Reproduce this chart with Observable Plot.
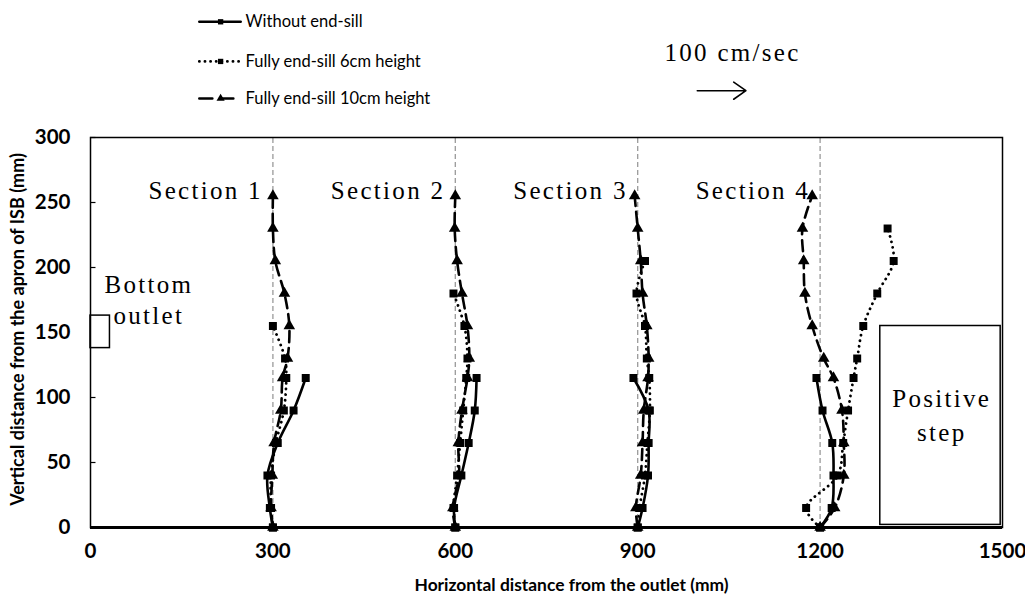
<!DOCTYPE html>
<html><head><meta charset="utf-8">
<script src="https://cdn.jsdelivr.net/npm/d3@7"></script>
<script src="https://cdn.jsdelivr.net/npm/@observablehq/plot@0.6"></script>
<style>
body{margin:0;background:#fff;}
#chart svg{display:block;background:#fff;}
</style></head><body><div id="chart"></div>
<script>
// measuring heights above the apron (mm)
const heights = [0,15,40,65,90,115,130,155,180,205,230,255];
const sections = [300,600,900,1200];
const sectionLabels = ["Section 1","Section 2","Section 3","Section 4"];
const xTicks = [0,300,600,900,1200,1500];
const yTicks = [0,50,100,150,200,250,300];
const seriesNames = ["Without end-sill","Fully end-sill 6cm height","Fully end-sill 10cm height"];

// horizontal positions (mm) of vector tips, one list per section, aligned with heights
const withoutSill = [
  [300,295,291,308,334,354],
  [600,598,610,622,632,635],
  [900,908,917,918,918,893],
  [1200,1219,1222,1220,1204,1194]
];
const sill6cm = [
  [300,297,297,305,318,322,320,300],
  [600,597,603,608,613,618,620,615,597],
  [900,903,912,916,920,919,915,912,898,912],
  [1200,1177,1229,1238,1246,1255,1261,1271,1294,1321,1311]
];
const sill10cm = [
  [300,297,299,302,313,316,324,327,319,304,300,300],
  [600,596,606,605,611,620,623,620,611,603,599,600],
  [900,897,905,908,910,917,918,915,908,905,900,895],
  [1200,1224,1239,1239,1236,1222,1206,1187,1175,1173,1171,1187]
];

function rows(arr) {
  const out = [];
  arr.forEach((xs, s) => xs.forEach((x, i) => out.push({section: s, x, y: heights[i]})));
  return out;
}
const r0 = rows(withoutSill), r6 = rows(sill6cm), r10 = rows(sill10cm);

// legend rows (placed above the frame, in y-units beyond the domain)
const legendRows = seriesNames.map((name, i) => ({name, i, y: [389, 358.5, 330][i]}));
const legendLines = legendRows.flatMap(d => [{i: d.i, x: 179, y: d.y}, {i: d.i, x: 247, y: d.y}]);

const serif = "Liberation Serif";
const sans = "Lato, 'Open Sans', sans-serif";

const plot = Plot.plot({
  width: 1025, height: 603,
  marginLeft: 90, marginRight: 23, marginTop: 137, marginBottom: 76,
  x: {domain: [0, 1500]},
  y: {domain: [0, 300]},
  style: {background: "#fff", overflow: "visible"},
  marks: [
    Plot.axisY({ticks: yTicks, tickFormat: d => String(d), tickSize: 0, tickPadding: 20, fontSize: 20.5, fontWeight: "bold", fontFamily: sans, label: null}),
    Plot.axisX({ticks: xTicks, tickFormat: d => String(d), tickSize: 0, tickPadding: 16, fontSize: 20.5, fontWeight: "bold", fontFamily: sans, label: null}),
    Plot.ruleY(yTicks.slice(1), {x1: 0, x2: 9, stroke: "black", strokeWidth: 1.2}),
    Plot.ruleX(sections, {y1: 0, y2: 300, stroke: "#9a9a9a", strokeWidth: 1.3, strokeDasharray: "5,3"}),
    // structures
    Plot.rect([{x1: 0, x2: 32, y1: 138, y2: 163}], {x1: "x1", x2: "x2", y1: "y1", y2: "y2", fill: "white", stroke: "black", strokeWidth: 1.5}),
    Plot.rect([{x1: 1299, x2: 1497, y1: 2, y2: 155}], {x1: "x1", x2: "x2", y1: "y1", y2: "y2", fill: "white", stroke: "black", strokeWidth: 1.5}),
    // series lines
    Plot.line(r10, {x: "x", y: "y", z: "section", curve: "catmull-rom", stroke: "black", strokeWidth: 2.6, strokeDasharray: "11,6"}),
    Plot.line(r6, {x: "x", y: "y", z: "section", curve: "catmull-rom", stroke: "black", strokeWidth: 2.8, strokeDasharray: "0.1,5.5", strokeLinecap: "round"}),
    Plot.line(r0, {x: "x", y: "y", z: "section", curve: "catmull-rom", stroke: "black", strokeWidth: 2.6}),
    Plot.dot(r10, {x: "x", y: "y", symbol: "triangle", r: 4.3, fill: "black", stroke: null}),
    Plot.dot(r6, {x: "x", y: "y", symbol: "square", r: 4.5, fill: "black", stroke: null}),
    Plot.dot(r0, {x: "x", y: "y", symbol: "square", r: 4.5, fill: "black", stroke: null}),
    Plot.frame({stroke: "black", strokeWidth: 1.5}),
    Plot.ruleY([0], {stroke: "black", strokeWidth: 2.8}),
    // annotations
    Plot.text(sections, {x: d => d, y: 259, text: (d, i) => sectionLabels[i], dx: -10, textAnchor: "end", fontFamily: serif, fontSize: 25}),
    Plot.text(["Bottom\noutlet"], {x: 96, y: 176, text: d => d, fontFamily: serif, fontSize: 25, lineHeight: 1.25}),
    Plot.text(["Positive\nstep"], {x: 1400, y: 88, text: d => d, fontFamily: serif, fontSize: 25, lineHeight: 1.35}),
    Plot.text(["100 cm/sec"], {x: 1056, y: 365, text: d => d, fontFamily: serif, fontSize: 25}),
    Plot.arrow([{x1: 998, x2: 1078, y: 336}], {x1: "x1", x2: "x2", y1: "y", y2: "y", stroke: "black", strokeWidth: 1.6, headLength: 14, headAngle: 70}),
    // legend
    Plot.line(legendLines.filter(d => d.i === 0), {x: "x", y: "y", stroke: "black", strokeWidth: 2.6}),
    Plot.line(legendLines.filter(d => d.i === 1), {x: "x", y: "y", stroke: "black", strokeWidth: 2.8, strokeDasharray: "0.1,5.5", strokeLinecap: "round"}),
    Plot.line(legendLines.filter(d => d.i === 2), {x: "x", y: "y", stroke: "black", strokeWidth: 2.6, strokeDasharray: "13,8"}),
    Plot.dot(legendRows, {x: 214, y: "y", symbol: d => d.i === 2 ? "triangle" : "square", r: d => d.i === 2 ? 4.6 : 4.5, fill: "black", stroke: null}),
    Plot.text(legendRows, {x: 255, y: "y", text: "name", textAnchor: "start", fontFamily: sans, fontSize: 16.5}),
    // axis titles
    Plot.text(["Horizontal distance from the outlet (mm)"], {frameAnchor: "bottom", dy: 63, dx: 25, text: d => d, textAnchor: "middle", fontFamily: sans, fontSize: 17.4, fontWeight: "bold"}),
    Plot.text(["Vertical distance from the apron of ISB (mm)"], {frameAnchor: "left", dx: -72, dy: -3, rotate: -90, text: d => d, textAnchor: "middle", fontFamily: sans, fontSize: 18, fontWeight: "bold"})
  ]
});
d3.select(plot).selectAll("g[font-family='Liberation Serif']").attr("letter-spacing", "2.3");
document.getElementById("chart").appendChild(plot);
</script></body></html>
